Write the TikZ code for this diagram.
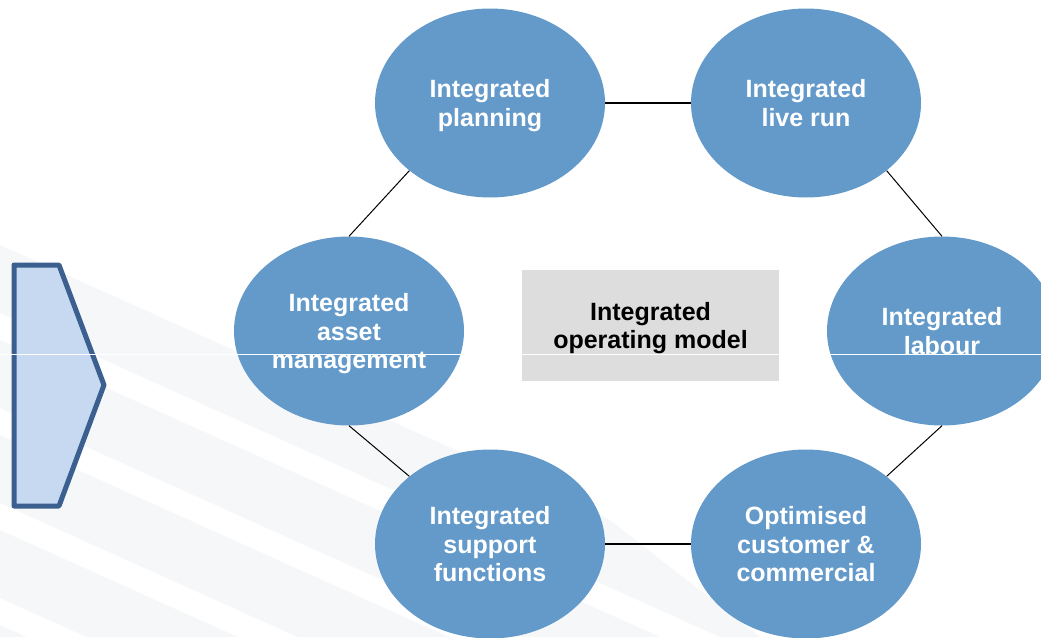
\documentclass[tikz,border=0pt]{standalone}
\usepackage{fontspec}
\setmainfont{Liberation Sans}
\usetikzlibrary{shapes.geometric}
\definecolor{discblue}{RGB}{99,154,202}
\definecolor{chevfill}{RGB}{198,217,240}
\definecolor{chevline}{RGB}{59,95,142}
\definecolor{corebox}{RGB}{221,221,221}
\definecolor{bandgray}{RGB}{246,247,249}
\tikzset{
  disc/.style={ellipse, fill=discblue, minimum width=230pt, minimum height=189pt,
    inner sep=0pt, align=center, text=white, text depth=0pt,
    font=\bfseries\fontsize{25}{28.5}\selectfont},
  core/.style={rectangle, fill=corebox, minimum width=257pt, minimum height=111pt,
    inner sep=0pt, align=center, text=black, text depth=0pt,
    font=\bfseries\fontsize{25}{28.5}\selectfont},
  thinlink/.style={draw=black, line width=1pt},
  thicklink/.style={draw=black, line width=2pt},
}
\begin{document}
\begin{tikzpicture}[x=1pt, y=-1pt]
  \useasboundingbox (0,0) rectangle (1041,637);
  \clip (0,0) rectangle (1041,637);
  \fill[white] (0,0) rectangle (1041,637);

  % faint diagonal bands in the lower left background
  \begin{scope}
    \clip (0,240) -- (250,240) -- (760,637) -- (0,637) -- cycle;
    \foreach \k in {0,...,7} {
      \fill[bandgray]
        (-100,{200+\k*95}) -- (900,{650+\k*95}) -- (900,{718+\k*95}) -- (-100,{268+\k*95}) -- cycle;
    }
  \end{scope}

  % chevron on the left
  \draw[chevline, fill=chevfill, line width=5pt, line join=round]
    (14,265) -- (59,265) -- (104,385) -- (59,506) -- (14,506) -- cycle;

  % hub and its six satellites
  \node[core] (hub) at (650.5,325.5) {Integrated\\operating model};

  \node[disc] (plan)  at (490,103) {Integrated\\planning};
  \node[disc] (live)  at (806,103) {Integrated\\live run};
  \node[disc] (asset) at (349,331) {Integrated\\asset\\management};
  \node[disc] (labour) at (942,331) {Integrated\\labour};
  \node[disc] (support) at (490,544) {Integrated\\support\\functions};
  \node[disc] (cust)  at (806,544) {Optimised\\customer \&\\commercial};

  % ring of connectors
  \draw[thicklink] (plan.east) -- (live.west);
  \draw[thicklink] (support.east) -- (cust.west);
  \draw[thinlink] (plan.220) -- (asset.north);
  \draw[thinlink] (live.320) -- (labour.north);
  \draw[thinlink] (asset.south) -- (support.140);
  \draw[thinlink] (labour.south) -- (cust.40);

  % thin white rule across the middle
  \draw[white, line width=1pt] (0,354) -- (1041,354);
\end{tikzpicture}
\end{document}
